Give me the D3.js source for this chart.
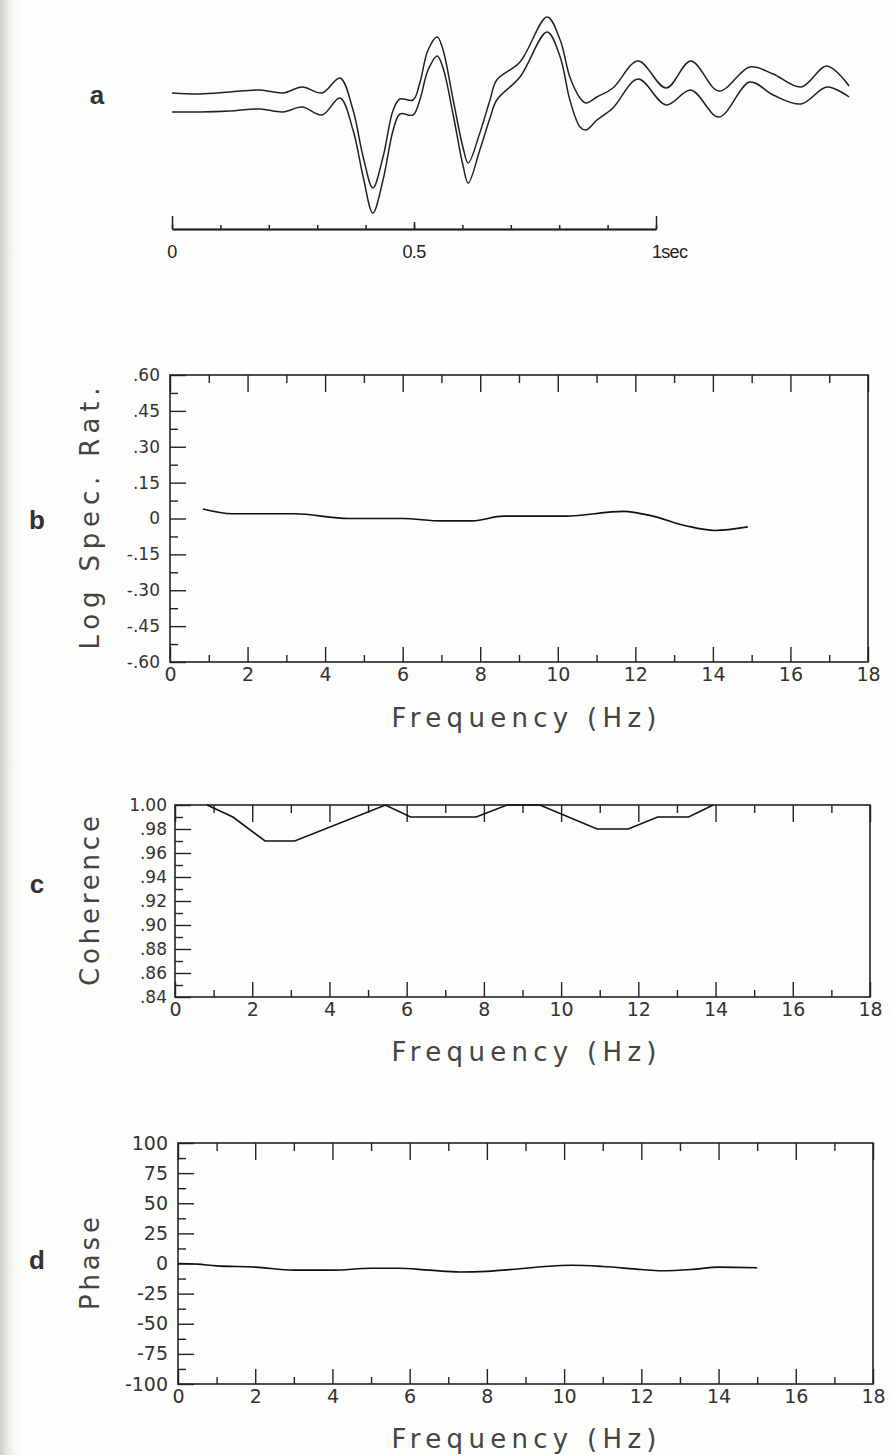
<!DOCTYPE html>
<html>
<head>
<meta charset="utf-8">
<script src="https://cdn.jsdelivr.net/npm/d3@7"></script>
<style>
  body { margin: 0; background: #fdfdfb; }
  svg { display: block; }
  .plot text { font-family: "DejaVu Sans", sans-serif; fill: #333; }
</style>
</head>
<body>
<svg id="chart" width="893" height="1455"></svg>
<script>
// panel a - two seismogram traces, time in sec, amplitude in arbitrary units
const traceTime  = [0, 0.058, 0.120, 0.182, 0.229, 0.269, 0.310, 0.347, 0.374, 0.395, 0.415, 0.436, 0.457, 0.471, 0.498, 0.512, 0.529, 0.548, 0.560, 0.581, 0.601, 0.612, 0.636, 0.657, 0.671, 0.719, 0.775, 0.802, 0.822, 0.843, 0.855, 0.878, 0.911, 0.963, 1.021, 1.072, 1.130, 1.194, 1.242, 1.300, 1.353, 1.399];
const traceUpper = [0, -0.1, 0.1, 0.3, 0.0, 0.6, 0.0, 1.5, -1.7, -6.4, -9.5, -6.4, -1.7, -0.6, -0.7, 1.0, 4.3, 5.6, 4.3, -0.7, -5.4, -7.0, -4.0, -0.7, 1.3, 3.1, 7.6, 5.3, 1.6, -0.5, -1.0, -0.4, 0.5, 3.2, 0.5, 3.2, 0.2, 2.6, 1.9, 0.6, 2.7, 0.7];
const traceLower = [-1.9, -1.9, -1.8, -1.6, -1.9, -1.4, -2.2, -0.5, -3.7, -8.4, -12.0, -8.7, -3.7, -2.1, -2.2, -0.7, 2.3, 3.7, 2.5, -2.2, -7.2, -9.0, -5.7, -2.5, -0.7, 1.6, 6.1, 3.6, -0.7, -3.4, -3.7, -2.7, -1.5, 1.4, -1.2, 0.3, -2.4, 1.1, -0.2, -1.1, 0.6, -0.4];
const timeTickValues = [0, 0.1, 0.2, 0.3, 0.4, 0.5, 0.6, 0.7, 0.8, 0.9, 1];
const timeLabels = ["0", "0.5", "1sec"];
const timeLabelValues = [0, 0.5, 1];

// panel b - log spectral ratio
const freqB = [0.85, 1.6, 3.2, 4.6, 6.0, 7.0, 7.8, 8.6, 10.2, 11.7, 12.45, 13.3, 14.05, 14.9];
const logSpecRatio = [0.04, 0.02, 0.02, 0.0, 0.0, -0.01, -0.01, 0.01, 0.01, 0.03, 0.01, -0.03, -0.05, -0.035];
const logSpecLabels = [".60", ".45", ".30", ".15", "0", "-.15", "-.30", "-.45", "-.60"];

// panel c - coherence
const freqC = [0.83, 1.5, 2.33, 3.1, 5.45, 6.1, 7.8, 8.6, 9.45, 10.93, 11.74, 12.5, 13.3, 13.94];
const coherence = [1.00, 0.99, 0.97, 0.97, 1.00, 0.99, 0.99, 1.00, 1.00, 0.98, 0.98, 0.99, 0.99, 1.00];
const coherenceLabels = ["1.00", ".98", ".96", ".94", ".92", ".90", ".88", ".86", ".84"];

// panel d - phase
const freqD = [0, 0.5, 1, 2, 3, 4, 5, 5.7, 6.5, 7.3, 8, 8.8, 9.5, 10.2, 11, 12, 12.5, 13.3, 14, 15];
const phase = [0, -0.5, -2, -3, -5.5, -5.5, -4, -4, -5.5, -7, -6.5, -4.5, -2.5, -1.5, -2.5, -5, -6, -5, -3, -3.5];
const phaseLabels = ["100", "75", "50", "25", "0", "-25", "-50", "-75", "-100"];

const freqLabels = ["0", "2", "4", "6", "8", "10", "12", "14", "16", "18"];

const svg = d3.select("#chart");

// grey edge of the scanned page
const grad = svg.append("defs").append("linearGradient").attr("id", "edge");
grad.append("stop").attr("offset", "0%").attr("stop-color", "#cfcfca");
grad.append("stop").attr("offset", "100%").attr("stop-color", "#fdfdfb").attr("stop-opacity", 0);
svg.append("rect").attr("x", 0).attr("y", 0).attr("width", 22).attr("height", 1455).attr("fill", "url(#edge)");

function midpoints(vals) {
  return d3.pairs(vals).map(p => (p[0] + p[1]) / 2);
}

// panel letters
const letters = [["a", 97, 95], ["b", 37, 520], ["c", 37, 884], ["d", 37, 1260]];
svg.selectAll(".letter").data(letters).join("text")
  .attr("class", "letter")
  .attr("x", d => d[1]).attr("y", d => d[2]).attr("dy", "0.35em")
  .attr("text-anchor", "middle")
  .style("font-family", "Liberation Sans, Arial, sans-serif")
  .style("font-weight", "bold").style("font-size", "26px").style("fill", "#333")
  .text(d => d[0]);

// ---- panel a
const ga = svg.append("g");
const xa = d3.scaleLinear().domain([0, 1]).range([172, 656]);
const ya = d3.scaleLinear().domain([-12, 8]).range([213, 13]);

const traceLine = vals => d3.line()
  .x((d, i) => xa(traceTime[i]))
  .y((d, i) => ya(vals[i]))
  .curve(d3.curveCatmullRom.alpha(0.5))(vals);

[traceUpper, traceLower].forEach(vals => {
  ga.append("path").attr("d", traceLine(vals))
    .attr("fill", "none").attr("stroke", "#222").attr("stroke-width", 1.7);
});

const axisY = 229;
ga.append("g").attr("transform", `translate(0,${axisY})`)
  .call(d3.axisBottom(xa).tickValues(timeTickValues).tickSize(-4).tickSizeOuter(0).tickFormat(""));
ga.append("g").attr("transform", `translate(0,${axisY})`)
  .call(d3.axisBottom(xa).tickValues([0.5]).tickSize(-7).tickSizeOuter(0).tickFormat(""));
ga.append("g").attr("transform", `translate(0,${axisY})`)
  .call(d3.axisBottom(xa).tickValues([0, 1]).tickSize(-13).tickSizeOuter(0).tickFormat(""));
ga.selectAll("path, line").attr("stroke", "#222").attr("stroke-width", 1.5);

ga.selectAll(".tlabel").data(timeLabels).join("text")
  .attr("x", (d, i) => xa(timeLabelValues[i]) + (i == 2 ? -4 : 0))
  .attr("y", 258)
  .attr("text-anchor", (d, i) => i == 2 ? "start" : "middle")
  .style("font-family", "Liberation Sans, Arial, sans-serif")
  .style("font-size", "18px").style("fill", "#222")
  .style("letter-spacing", "-0.7px")
  .text(d => d);

// ---- spectral panels
function drawPanel(p) {
  const g = svg.append("g").attr("class", "plot");
  const x = d3.scaleLinear().domain([0, 18]).range([p.left, p.right]);
  const y = d3.scaleLinear().domain(p.yDomain).range([p.bottom, p.top]);
  const yMajor = p.yLabels.map(Number);
  const xMajor = freqLabels.map(Number);
  const xMinor = midpoints(xMajor);

  // left ticks, pointing in
  g.append("g").attr("transform", `translate(${p.left},0)`)
    .call(d3.axisLeft(y).tickValues(midpoints(yMajor)).tickSize(-8).tickFormat(""));
  g.append("g").attr("class", "ylab").attr("transform", `translate(${p.left},0)`)
    .call(d3.axisLeft(y).tickValues(yMajor).tickSize(-16).tickPadding(p.yPad)
      .tickFormat((d, i) => p.yLabels[i]));

  // bottom ticks + labels
  g.append("g").attr("transform", `translate(0,${p.bottom})`)
    .call(d3.axisBottom(x).tickValues(xMinor).tickSize(-7).tickFormat(""));
  g.append("g").attr("class", "xlab").attr("transform", `translate(0,${p.bottom})`)
    .call(d3.axisBottom(x).tickValues(xMajor).tickSize(-15).tickPadding(6)
      .tickFormat((d, i) => freqLabels[i]));

  // top ticks
  g.append("g").attr("transform", `translate(0,${p.top})`)
    .call(d3.axisTop(x).tickValues(xMinor).tickSize(-8).tickFormat(""));
  g.append("g").attr("transform", `translate(0,${p.top})`)
    .call(d3.axisTop(x).tickValues(xMajor).tickSize(-17).tickFormat(""));

  g.selectAll(".domain").remove();
  g.selectAll("line").attr("stroke", "#222").attr("stroke-width", 1.4);
  g.selectAll(".ylab text").style("font-size", p.yFont + "px").attr("fill", "#333");
  g.selectAll(".xlab text").style("font-size", "19px").attr("fill", "#333");

  g.append("rect")
    .attr("x", p.left).attr("y", p.top)
    .attr("width", p.right - p.left).attr("height", p.bottom - p.top)
    .attr("fill", "none").attr("stroke", "#222").attr("stroke-width", 1.6);

  g.append("path")
    .attr("d", d3.line().x((d, i) => x(p.freq[i])).y((d, i) => y(p.vals[i])).curve(p.curve)(p.vals))
    .attr("fill", "none").attr("stroke", "#111").attr("stroke-width", 1.6);

  // axis titles
  const cy = (p.top + p.bottom) / 2;
  g.append("text")
    .attr("transform", `translate(90,${cy}) rotate(-90)`)
    .attr("text-anchor", "middle").attr("dy", "0.35em")
    .attr("textLength", p.titleLen).attr("lengthAdjust", "spacing")
    .style("font-size", "26px").style("fill", "#444")
    .text(p.title);
  g.append("text")
    .attr("x", 524).attr("y", p.bottom + p.xTitleDy)
    .attr("text-anchor", "middle")
    .attr("textLength", 265).attr("lengthAdjust", "spacing")
    .style("font-size", "26px").style("fill", "#444")
    .text("Frequency (Hz)");
}

drawPanel({
  left: 170, right: 868, top: 375, bottom: 662,
  yDomain: [-0.6, 0.6], yLabels: logSpecLabels, yFont: 17, yPad: 10,
  freq: freqB, vals: logSpecRatio, curve: d3.curveMonotoneX,
  title: "Log Spec. Rat.", titleLen: 262, xTitleDy: 65
});

drawPanel({
  left: 175, right: 870, top: 805, bottom: 997,
  yDomain: [0.84, 1.0], yLabels: coherenceLabels, yFont: 17, yPad: 8,
  freq: freqC, vals: coherence, curve: d3.curveLinear,
  title: "Coherence", titleLen: 170, xTitleDy: 64
});

drawPanel({
  left: 178, right: 873, top: 1143, bottom: 1384,
  yDomain: [-100, 100], yLabels: phaseLabels, yFont: 19, yPad: 10,
  freq: freqD, vals: phase, curve: d3.curveMonotoneX,
  title: "Phase", titleLen: 93, xTitleDy: 64
});
</script>
</body>
</html>
